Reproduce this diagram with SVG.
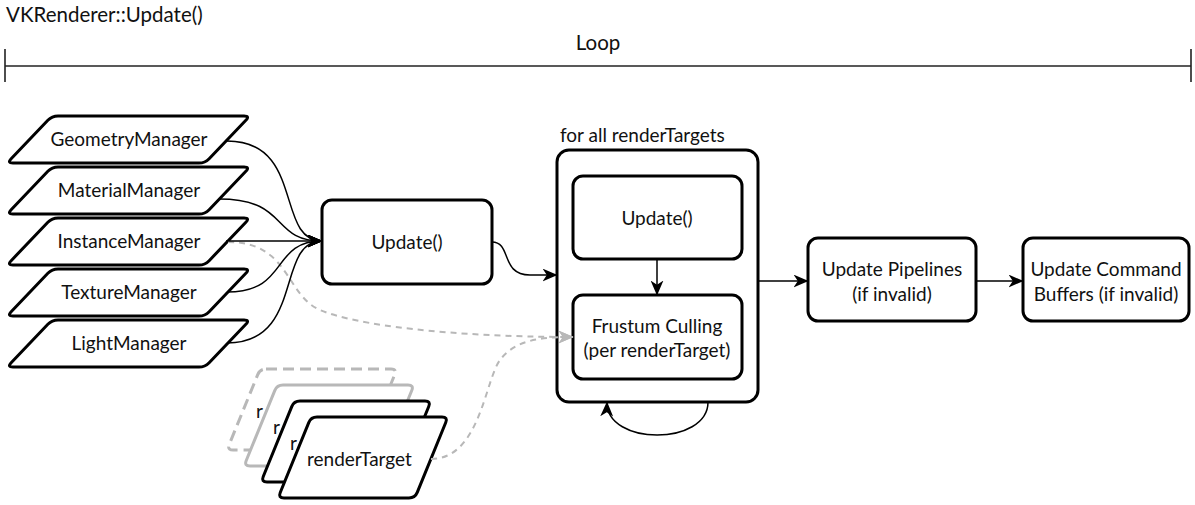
<svg xmlns="http://www.w3.org/2000/svg" xmlns:xlink="http://www.w3.org/1999/xlink" width="1195" height="505" viewBox="0 0 1195 505">
  <style>
    text { font-family: "Lato", "Liberation Sans", sans-serif; font-size: 19px; fill: #111; }
    .big { font-size: 20.5px; }
    .mid { text-anchor: middle; }
    .box { fill: #fff; stroke: #000; stroke-width: 3; }
    .para { fill: #fff; stroke: #000; stroke-width: 3; }
    .para-grey { fill: #fff; stroke: #b8b8b8; stroke-width: 3; }
    .para-dash { fill: #fff; stroke: #b8b8b8; stroke-width: 3; stroke-dasharray: 11 6; }
    .edge { fill: none; stroke: #000; stroke-width: 1.5; }
    .edge-grey { fill: none; stroke: #b8b8b8; stroke-width: 2; stroke-dasharray: 6 5; }
    .rule { fill: none; stroke: #222; stroke-width: 1.6; }
  </style>
  <defs>
    <!-- slanted manager card, rounded corners -->
    <path id="mgr" d="M51,0 L237,0 Q243,0 238.85,4.33 L202.15,42.67 Q198,47 192,47 L6,47 Q0,47 4.15,42.67 L40.85,4.33 Q45,0 51,0 Z"/>
    <!-- slanted render target card -->
    <path id="rt" d="M39,0 L164,0 Q170,0 167.74,5.56 L139.26,75.44 Q137,81 131,81 L6,81 Q0,81 2.26,75.44 L30.74,5.56 Q33,0 39,0 Z"/>
    <marker id="arrow" viewBox="0 0 14 12" refX="13.5" refY="6" markerWidth="15" markerHeight="13" markerUnits="userSpaceOnUse" orient="auto">
      <path d="M0,0 L14,6 L0,12 L4,6 Z" fill="#000"/>
    </marker>
    <marker id="arrow-grey" viewBox="0 0 14 12" refX="13.5" refY="6" markerWidth="15" markerHeight="13" markerUnits="userSpaceOnUse" orient="auto">
      <path d="M0,0 L14,6 L0,12 L4,6 Z" fill="#b8b8b8"/>
    </marker>
  </defs>

  <rect width="1195" height="505" fill="#fff"/>

  <!-- heading and loop span -->
  <g id="header">
    <text class="big" x="6" y="22">VKRenderer::Update()</text>
    <text class="big mid" x="598" y="50">Loop</text>
    <path class="rule" d="M5,66 H1191"/>
    <path class="rule" d="M5,49 V82 M1191,49 V82" stroke-width="2"/>
  </g>

  <!-- managers -->
  <g id="geometry-manager">
    <use xlink:href="#mgr" href="#mgr" class="para" x="7" y="116"/>
    <text class="mid" x="129" y="146">GeometryManager</text>
  </g>
  <g id="material-manager">
    <use xlink:href="#mgr" href="#mgr" class="para" x="7" y="167"/>
    <text class="mid" x="129" y="197">MaterialManager</text>
  </g>
  <g id="instance-manager">
    <use xlink:href="#mgr" href="#mgr" class="para" x="7" y="218"/>
    <text class="mid" x="129" y="248">InstanceManager</text>
  </g>
  <g id="texture-manager">
    <use xlink:href="#mgr" href="#mgr" class="para" x="7" y="269"/>
    <text class="mid" x="129" y="299">TextureManager</text>
  </g>
  <g id="light-manager">
    <use xlink:href="#mgr" href="#mgr" class="para" x="7" y="320"/>
    <text class="mid" x="129" y="350">LightManager</text>
  </g>

  <!-- stack of render targets, back to front; only the first letter of the hidden labels shows -->
  <g id="render-targets">
    <use xlink:href="#rt" href="#rt" class="para-dash" x="227" y="369"/>
    <text x="256" y="418">r</text>
    <use xlink:href="#rt" href="#rt" class="para-grey" x="244" y="385"/>
    <text x="273" y="434">r</text>
    <use xlink:href="#rt" href="#rt" class="para" x="261" y="401"/>
    <text x="290" y="450">r</text>
    <use xlink:href="#rt" href="#rt" class="para" x="278" y="417"/>
    <text x="307" y="466">renderTarget</text>
  </g>

  <!-- main update -->
  <g id="update">
    <rect class="box" x="322" y="200" width="170" height="84" rx="10"/>
    <text class="mid" x="407" y="249">Update()</text>
  </g>

  <!-- per render target loop -->
  <g id="per-target">
    <text x="560" y="142">for all renderTargets</text>
    <rect class="box" x="557" y="150" width="201" height="252" rx="12"/>
  </g>
  <g id="target-update">
    <rect class="box" x="573" y="176" width="169" height="83" rx="10"/>
    <text class="mid" x="657" y="225">Update()</text>
  </g>
  <g id="frustum-culling">
    <rect class="box" x="573" y="295" width="169" height="84" rx="10"/>
    <text class="mid" x="657" y="333">Frustum Culling</text>
    <text class="mid" x="657" y="357">(per renderTarget)</text>
  </g>

  <g id="update-pipelines">
    <rect class="box" x="808" y="238" width="168" height="83" rx="10"/>
    <text class="mid" x="892" y="276">Update Pipelines</text>
    <text class="mid" x="892" y="301">(if invalid)</text>
  </g>
  <g id="update-command-buffers">
    <rect class="box" x="1023" y="238" width="166" height="83" rx="10"/>
    <text class="mid" x="1106" y="276">Update Command</text>
    <text class="mid" x="1106" y="301">Buffers (if invalid)</text>
  </g>

  <!-- connectors -->
  <g id="connectors">
    <path class="edge-grey" d="M228,242 C290,242 285,295 320,310 S450,337 573,337" marker-end="url(#arrow-grey)"/>
    <path class="edge-grey" d="M431,459 C480,459 485,380 500,360 C515,340 540,337 573,337" marker-end="url(#arrow-grey)"/>
    <path class="edge" d="M227,141 C305,141 275,241 322,241" marker-end="url(#arrow)"/>
    <path class="edge" d="M219,199 C290,199 270,241 322,241" marker-end="url(#arrow)"/>
    <path class="edge" d="M226,241 L322,241" marker-end="url(#arrow)"/>
    <path class="edge" d="M227,292 C290,292 270,241 322,241" marker-end="url(#arrow)"/>
    <path class="edge" d="M227,343 C305,343 275,241 322,241" marker-end="url(#arrow)"/>
    <path class="edge" d="M492,242 C512,242 500,275 530,275 L557,275" marker-end="url(#arrow)"/>
    <path class="edge" d="M657,259 L657,295" marker-end="url(#arrow)"/>
    <path class="edge" d="M708,402 C708,446 606,446 607,402" marker-end="url(#arrow)"/>
    <path class="edge" d="M758,281 L808,281" marker-end="url(#arrow)"/>
    <path class="edge" d="M976,281 L1023,281" marker-end="url(#arrow)"/>
  </g>
</svg>
